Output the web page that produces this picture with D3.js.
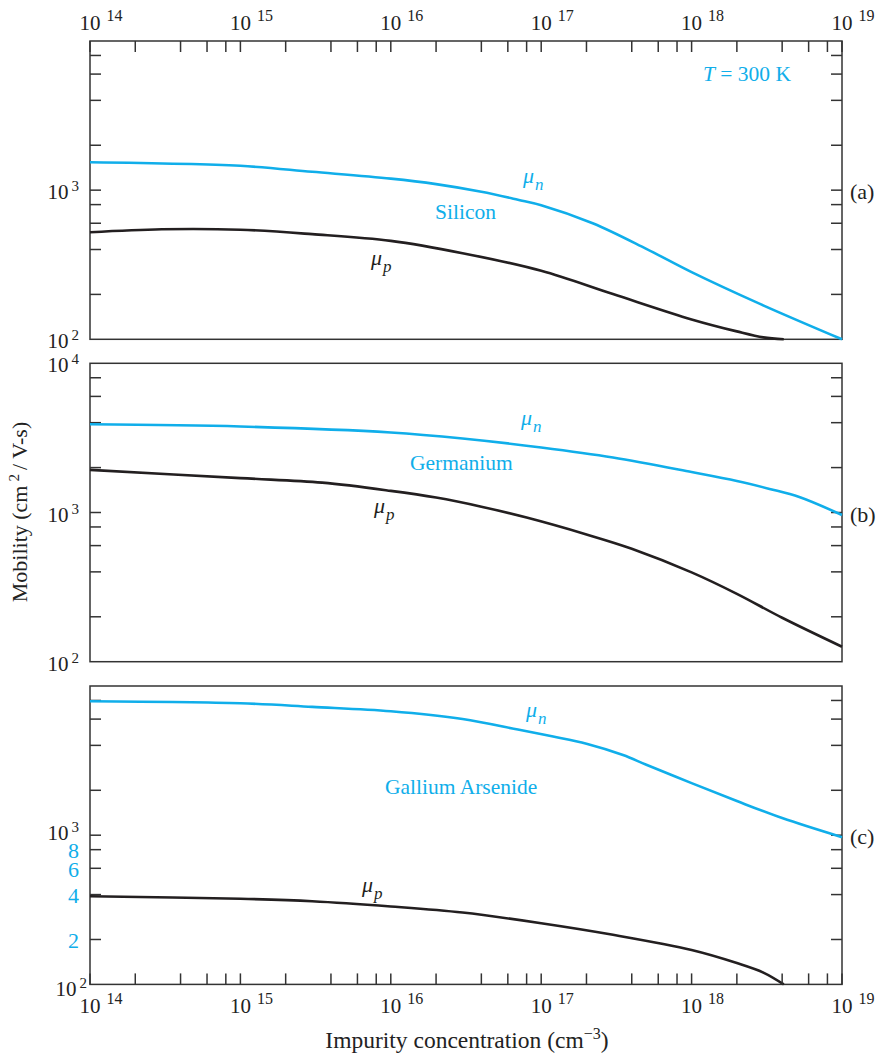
<!DOCTYPE html>
<html>
<head>
<meta charset="utf-8">
<script src="https://cdn.jsdelivr.net/npm/d3@7"></script>
<style>
  html, body { margin: 0; padding: 0; background: #fff; }
  svg { display: block; }
  text { font-family: "Liberation Serif", "Times New Roman", serif; }
</style>
</head>
<body>
<div id="chart"></div>
<script>
// ---------------- DATA ----------------
const xDecades = [14, 15, 16, 17, 18, 19];          // x tick labels 10^k
const xMinorMultipliers = [2, 4, 6, 8];             // minor ticks per decade
const yTickValues = [200, 400, 600, 800, 1000, 2000, 4000, 6000, 8000];
const gaasMinorLabels = [8, 6, 4, 2];               // blue labels (×100) in panel (c)

// Silicon
const siConcN = [1e14, 1e15, 3e15, 1e16, 2e16, 4e16, 7e16, 1e17, 2.2e17, 5e17, 1e18, 2.8e18, 1e19];
const siMuN   = [1540, 1456, 1327, 1194, 1097, 975, 863, 793, 600, 404, 282, 174, 100];
const siConcP = [1e14, 3e14, 1e15, 3e15, 1e16, 3e16, 1e17, 3e17, 1e18, 2e18, 3e18, 4.1e18];
const siMuP   = [522, 547, 543, 507, 457, 378, 288, 201, 136, 113, 103, 100];

// Germanium
const geConcN = [1e14, 1e15, 1e16, 3e16, 1e17, 3e17, 1e18, 2e18, 3.3e18, 5.2e18, 1e19];
const geMuN   = [3900, 3770, 3438, 3133, 2727, 2337, 1868, 1627, 1439, 1270, 962];
const geConcP = [1e14, 1e15, 3.5e15, 1e16, 2e16, 4e16, 8e16, 2e17, 4e17, 1e18, 2e18, 4e18, 1e19];
const geMuP   = [1930, 1700, 1585, 1397, 1259, 1094, 925, 713, 572, 397, 285, 197, 126];

// Gallium Arsenide
const gaConcN = [1e14, 1e15, 3e15, 1e16, 3e16, 7e16, 1.2e17, 2e17, 3.5e17, 5e17, 1e18, 2e18, 4e18, 1e19];
const gaMuN   = [7900, 7660, 7245, 6770, 6010, 5105, 4584, 4100, 3444, 2965, 2233, 1694, 1303, 970];
const gaConcP = [1e14, 1e15, 3e15, 1e16, 3e16, 1e17, 3e17, 1e18, 2e18, 3e18, 4.1e18];
const gaMuP   = [390, 375, 361, 333, 303, 257, 215, 170, 139, 120, 100];

// ---------------- LAYOUT ----------------
const W = 878, H = 1056;
const BLUE = "#10aeea", BLACK = "#231f20", AXIS = "#333";
const xLeft = 90, xRight = 842;

const panels = [
  { key: "a", top: 41,    bottom: 339.3, tag: "(a)", yLabels: [3, 2],
    n: [siConcN, siMuN], p: [siConcP, siMuP] },
  { key: "b", top: 363.3, bottom: 661.7, tag: "(b)", yLabels: [4, 3, 2],
    n: [geConcN, geMuN], p: [geConcP, geMuP] },
  { key: "c", top: 686,   bottom: 984.4, tag: "(c)", yLabels: [3, 2],
    n: [gaConcN, gaMuN], p: [gaConcP, gaMuP] }
];

const svg = d3.select("#chart").append("svg")
  .attr("width", W).attr("height", H)
  .attr("viewBox", `0 0 ${W} ${H}`);
svg.append("rect").attr("width", W).attr("height", H).attr("fill", "#fff");

const x = d3.scaleLog().domain([1e14, 1e19]).range([xLeft, xRight]);

// all x tick positions
const xTicks = [];
xDecades.forEach((d, i) => {
  xTicks.push(Math.pow(10, d));
  if (i < xDecades.length - 1) xMinorMultipliers.forEach(m => xTicks.push(m * Math.pow(10, d)));
});

const TICK = 11;

function powLabel(g, px, py, exp, opts) {
  const t = g.append("text")
    .attr("x", px).attr("y", py)
    .attr("font-size", opts.size || 21)
    .attr("fill", opts.fill || "#222")
    .attr("text-anchor", opts.anchor || "start");
  t.append("tspan").text("10");
  t.append("tspan").attr("dx", opts.gap || 4).attr("dy", opts.supDy || -8.5)
    .attr("font-size", opts.supSize || 15).text(exp);
  return t;
}

panels.forEach((P, pi) => {
  const g = svg.append("g");
  const y = d3.scaleLog().domain([100, 10000]).range([P.bottom, P.top]);

  // frame
  g.append("rect")
    .attr("x", xLeft).attr("y", P.top)
    .attr("width", xRight - xLeft).attr("height", P.bottom - P.top)
    .attr("fill", "none").attr("stroke", AXIS).attr("stroke-width", 1.5);

  // y ticks, left & right, inward
  yTickValues.forEach(v => {
    g.append("line").attr("x1", xLeft).attr("x2", xLeft + TICK)
      .attr("y1", y(v)).attr("y2", y(v)).attr("stroke", AXIS).attr("stroke-width", 1.5);
    g.append("line").attr("x1", xRight - TICK).attr("x2", xRight)
      .attr("y1", y(v)).attr("y2", y(v)).attr("stroke", AXIS).attr("stroke-width", 1.5);
  });

  // y labels
  P.yLabels.forEach(e => {
    const yy = y(Math.pow(10, e));
    let dxx = 0, dyy = 9;
    if (P.key === "c" && e === 2) { dxx = 8; dyy = 12; }
    if (P.key === "c" && e === 3) { dyy = 5; }
    powLabel(g, 79 + dxx, yy + dyy, e, { anchor: "end", gap: 3, supDy: -8, supSize: 15 });
  });

  // panel tag
  g.append("text").attr("x", 850).attr("y", y(1000) + 9)
    .attr("font-size", 22).attr("fill", "#222").text(P.tag);

  // curves
  const line = d3.line()
    .x(d => x(d[0])).y(d => y(d[1]))
    .curve(d3.curveCatmullRom.alpha(0.5));
  const nPts = P.n[0].map((c, i) => [c, P.n[1][i]]);
  const pPts = P.p[0].map((c, i) => [c, P.p[1][i]]);
  g.append("path").datum(nPts).attr("d", line)
    .attr("fill", "none").attr("stroke", BLUE).attr("stroke-width", 2.6)
    .attr("stroke-linejoin", "round");
  g.append("path").datum(pPts).attr("d", line)
    .attr("fill", "none").attr("stroke", BLACK).attr("stroke-width", 2.6)
    .attr("stroke-linejoin", "round");

  // x ticks: top of first panel, bottom of last panel
  if (pi === 0) {
    xTicks.forEach(c => {
      g.append("line").attr("x1", x(c)).attr("x2", x(c))
        .attr("y1", P.top).attr("y2", P.top + TICK).attr("stroke", AXIS).attr("stroke-width", 1.5);
    });
    xDecades.forEach(d => powLabel(g, x(Math.pow(10, d)) - 10.5, 30, d, { gap: 6, supDy: -9, supSize: 16 }));
  }
  if (pi === panels.length - 1) {
    xTicks.forEach(c => {
      g.append("line").attr("x1", x(c)).attr("x2", x(c))
        .attr("y1", P.bottom - TICK).attr("y2", P.bottom).attr("stroke", AXIS).attr("stroke-width", 1.5);
    });
    xDecades.forEach(d => powLabel(g, x(Math.pow(10, d)) - 10.5, 1013, d, { gap: 6, supDy: -9, supSize: 16 }));
    // blue minor labels (one stacked text block)
    const bl = g.append("text").attr("text-anchor", "end")
      .attr("font-size", 22).attr("fill", BLUE);
    gaasMinorLabels.forEach(m => {
      bl.append("tspan").attr("x", 79).attr("y", y(m * 100) + 8.5).text(m);
    });
  }
});

// ---------------- ANNOTATIONS ----------------
function muLabel(px, py, sub, color) {
  const t = svg.append("text").attr("x", px).attr("y", py)
    .attr("font-size", 22).attr("font-style", "italic").attr("fill", color);
  t.append("tspan").text("μ");
  t.append("tspan").attr("dx", 1).attr("dy", 7).attr("font-size", 17).text(sub);
}
// Silicon
muLabel(523, 183, "n", BLUE);
muLabel(371, 265, "p", BLACK);
svg.append("text").attr("x", 435).attr("y", 219).attr("font-size", 21.5).attr("fill", BLUE).text("Silicon");
// Germanium
muLabel(521, 425, "n", BLUE);
muLabel(374, 513, "p", BLACK);
svg.append("text").attr("x", 410).attr("y", 470).attr("font-size", 21.5).attr("fill", BLUE).text("Germanium");
// GaAs
muLabel(526, 717, "n", BLUE);
muLabel(362, 892, "p", BLACK);
svg.append("text").attr("x", 385).attr("y", 794).attr("font-size", 21.5).attr("fill", BLUE).text("Gallium Arsenide");

// T = 300 K
const tt = svg.append("text").attr("x", 703).attr("y", 81).attr("font-size", 21.5).attr("fill", BLUE);
tt.append("tspan").attr("font-style", "italic").text("T");
tt.append("tspan").text(" = 300 K");

// Axis titles
const yt = svg.append("text")
  .attr("transform", "translate(27,512) rotate(-90)")
  .attr("text-anchor", "middle").attr("font-size", 22).attr("fill", "#222");
yt.append("tspan").text("Mobility (cm");
yt.append("tspan").attr("dx", 4).attr("dy", -8).attr("font-size", 15).text("2");
yt.append("tspan").attr("dx", 4).attr("dy", 8).text("/ V-s)");

const xt = svg.append("text")
  .attr("x", 467).attr("y", 1048)
  .attr("text-anchor", "middle").attr("font-size", 23.5).attr("fill", "#222");
xt.append("tspan").text("Impurity concentration (cm");
xt.append("tspan").attr("dy", -9).attr("font-size", 16).text("−3");
xt.append("tspan").attr("dy", 9).text(")");
</script>
</body>
</html>
